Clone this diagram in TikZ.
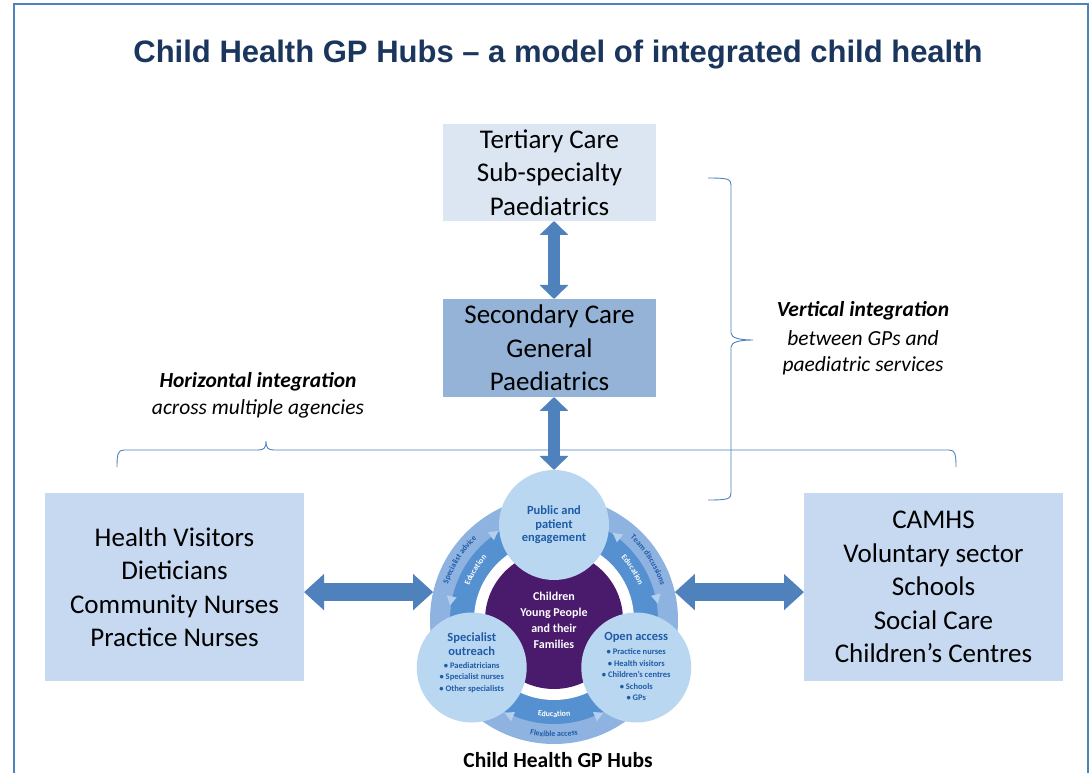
\documentclass[tikz,border=0pt]{standalone}
\usepackage{fontspec}
\setmainfont{Carlito}
\newfontfamily\titlefont{Liberation Sans}
\usetikzlibrary{arrows.meta,decorations.text,calc}
\definecolor{frameblue}{HTML}{4F81BD}
\definecolor{titlenavy}{HTML}{1B365D}
\definecolor{terfill}{HTML}{DCE6F2}
\definecolor{secfill}{HTML}{95B3D7}
\definecolor{sidefill}{HTML}{C6D9F1}
\definecolor{arrowblue}{HTML}{4F81BD}
\definecolor{lightband}{HTML}{8EB3E0}
\definecolor{darkband}{HTML}{5590D0}
\definecolor{hubcircle}{HTML}{B9D7F1}
\definecolor{hubpurple}{HTML}{4A1A6C}
\definecolor{hubtext}{HTML}{1F5BA6}
\definecolor{tricol}{HTML}{B4D0EE}
\newcommand\bandfont{\fontsize{8}{9}\selectfont\bfseries}
\newcommand\hubtri[2]{\fill[tricol] ($(hc)+({#1+3*(#2)}:105)$) -- ($(hc)+({#1-2*(#2)}:100)$) -- ($(hc)+({#1-2*(#2)}:110)$) -- cycle;}
\begin{document}
\begin{tikzpicture}[x=1pt,y=1pt,
  box/.style={inner sep=0pt, outer sep=0pt, align=center, font=\fontsize{27}{33.5}\selectfont},
  vbigarrow/.style={draw=arrowblue, line width=12pt, {Triangle[length=14pt,width=28pt]}-{Triangle[length=14pt,width=28pt]}},
  hbigarrow/.style={draw=arrowblue, line width=18pt, {Triangle[length=20pt,width=35pt]}-{Triangle[length=20pt,width=35pt]}},
  brace/.style={draw=frameblue, line width=0.9pt},
  lab/.style={inner sep=0pt, font=\fontsize{21.5}{27}\selectfont\itshape},
  hubc/.style={circle, fill=hubcircle, minimum size=110pt, inner sep=0pt, outer sep=0pt, align=center, text=hubtext, font=\fontsize{12.5}{13.5}\selectfont\bfseries},
  hubtitle/.style={inner sep=0pt, align=center, text=hubtext, font=\fontsize{12.5}{13.5}\selectfont\bfseries},
  hubbul/.style={inner sep=0pt, align=center, text=hubtext, font=\fontsize{8.5}{11.5}\selectfont\bfseries}
]
\useasboundingbox (0,0) rectangle (1090,772);
\fill[white] (0,0) rectangle (1090,772);
\draw[frameblue, line width=2pt] (13.5,-5) rectangle (1088,768);

\node[inner sep=0pt, text=titlenavy, font=\titlefont\bfseries\fontsize{31}{36}\selectfont] (title) at (558,717) {Child Health GP Hubs – a model of integrated child health};

% boxes
\node[box, fill=terfill, minimum width=213pt, minimum height=97pt] (ter) at (549.5,599.5) {Tertiary Care\\Sub-specialty\\Paediatrics};
\node[box, fill=secfill, minimum width=213pt, minimum height=98pt] (sec) at (549.5,424) {Secondary Care\\General\\Paediatrics};
\node[box, fill=sidefill, minimum width=259pt, minimum height=188pt] (hv) at (174.5,185) {Health Visitors\\Dieticians\\Community Nurses\\Practice Nurses};
\node[box, fill=sidefill, minimum width=259pt, minimum height=188pt] (cam) at (933.5,185) {CAMHS\\Voluntary sector\\Schools\\Social Care\\Children’s Centres};

% labels
\node[lab, font=\fontsize{21.5}{27}\selectfont\bfseries\itshape] (hl1) at (258,390) {Horizontal integration};
\node[lab] (hl2) at (258,363) {across multiple agencies};
\node[lab, font=\fontsize{21.5}{27}\selectfont\bfseries\itshape] (vl1) at (863,461) {Vertical integration};
\node[lab] (vl2) at (863,434) {between GPs and};
\node[lab] (vl3) at (863,406) {paediatric services};

% braces
\draw[brace] (708,594) .. controls (728,594) and (731,593) .. (731,587) -- (731,439)
  .. controls (731,434) and (740,432) .. (753,432)
  .. controls (740,432) and (731,430) .. (731,425) -- (731,279)
  .. controls (731,273) and (728,272) .. (708,272);
\draw[brace] (117,305) .. controls (117,318) and (118,322) .. (124,322) -- (258,322)
  .. controls (264,322) and (266,324) .. (266,331)
  .. controls (266,324) and (268,322) .. (274,322) -- (949,322)
  .. controls (955,322) and (956,318) .. (956,305);

% hub
\coordinate (hc) at (554,152);
\node[circle, fill=lightband, minimum size=248pt, inner sep=0pt, outer sep=0pt] (ring) at (hc) {};
\fill[darkband] (hc) circle (104);
\fill[white] (hc) circle (80);
\node[circle, fill=hubpurple, minimum size=138pt, inner sep=0pt, text=white, align=center, font=\fontsize{12}{16}\selectfont\bfseries] (cyp) at (hc) {Children\\Young People\\and their\\Families};

\hubtri{125}{-1}
\hubtri{169}{1}
\hubtri{53}{1}
\hubtri{12}{-1}
\hubtri{245}{-1}
\hubtri{295}{1}

\path[decorate, decoration={text along path, text align=center, text color=hubtext, text={|\bandfont|Specialist advice}}]
  ($(hc)+(190:112)$) arc[start angle=190, end angle=105, radius=112];
\path[decorate, decoration={text along path, text align=center, text color=white, text={|\bandfont|Education}}]
  ($(hc)+(190:91.5)$) arc[start angle=190, end angle=105, radius=91.5];
\path[decorate, decoration={text along path, text align=center, text color=hubtext, text={|\bandfont|Team discussions}}]
  ($(hc)+(75:112)$) arc[start angle=75, end angle=-10, radius=112];
\path[decorate, decoration={text along path, text align=center, text color=white, text={|\bandfont|Education}}]
  ($(hc)+(75:91.5)$) arc[start angle=75, end angle=-10, radius=91.5];
\path[decorate, decoration={text along path, text align=center, text color=white, text={|\bandfont|Education}}]
  ($(hc)+(230:97)$) arc[start angle=230, end angle=310, radius=97];
\path[decorate, decoration={text along path, text align=center, text color=hubtext, text={|\bandfont|Flexible access}}]
  ($(hc)+(230:117)$) arc[start angle=230, end angle=310, radius=117];

\node[hubc] (pub) at ($(hc)+(90:95)$) {Public and\\patient\\engagement};
\node[hubc] (spo) at ($(hc)+(210:95)$) {};
\node[hubc] (opa) at ($(hc)+(330:95)$) {};
\node[hubtitle] (spot) at ([yshift=23.5]spo.center) {Specialist\\outreach};
\node[hubbul] (spob) at ([yshift=-10]spo.center) {• Paediatricians\\• Specialist nurses\\• Other specialists};
\node[hubtitle] (opat) at ([yshift=30.5]opa.center) {Open access};
\node[hubbul] (opab) at ([yshift=-7.5]opa.center) {• Practice nurses\\• Health visitors\\• Children’s centres\\• Schools\\• GPs};

\node[inner sep=0pt, font=\fontsize{21.5}{26}\selectfont\bfseries] (hubl) at (558,12) {Child Health GP Hubs};

% arrows
\draw[vbigarrow] (ter.south -| hc) -- (sec.north -| hc);
\draw[vbigarrow] (sec.south -| hc) -- (pub.north);
\draw[hbigarrow] (hv.east |- ring.167) -- (ring.167);
\draw[hbigarrow] (ring.13) -- (cam.west |- ring.13);
\end{tikzpicture}
\end{document}
